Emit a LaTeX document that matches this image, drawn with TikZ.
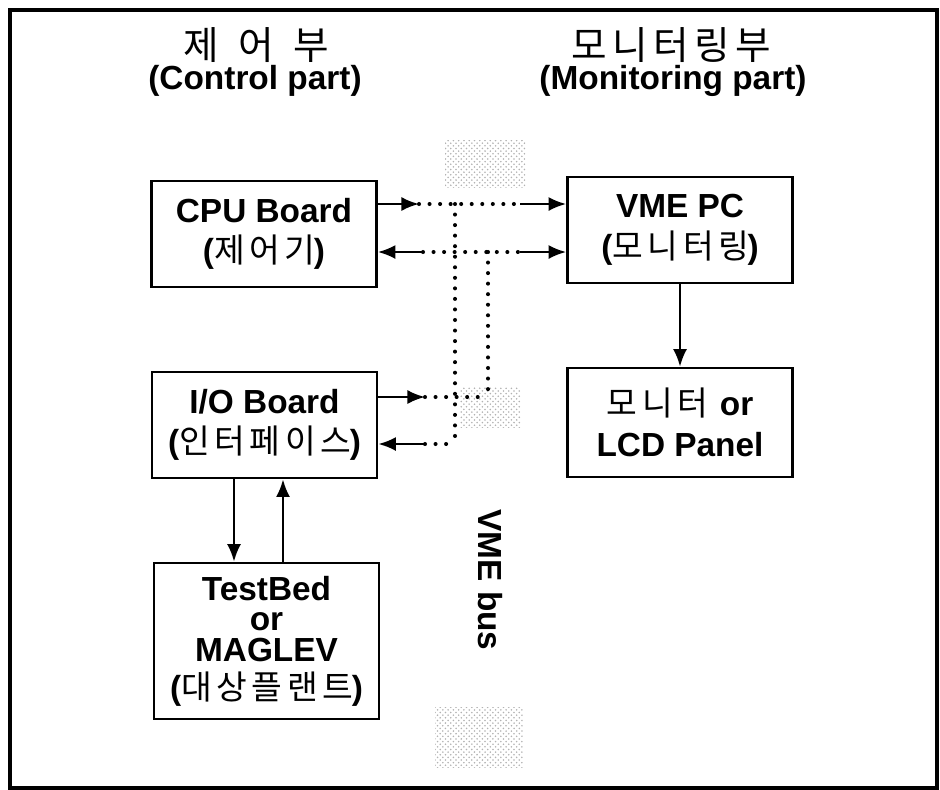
\documentclass[tikz,border=0pt]{standalone}
\usepackage{fontspec}
\setmainfont{Liberation Sans}
\newfontfamily\korfont{Noto Sans CJK KR}[LetterSpace=14]
\usetikzlibrary{arrows.meta,patterns}
\newcommand{\kr}[1]{{\korfont\mdseries #1\kern-0.05em}}
\newcommand{\kparen}[1]{\textbf{(}\kr{#1}\textbf{)}}

\tikzset{
  board/.style={draw, line width=1.5pt, minimum width=4.5cm, minimum height=2.12cm,
    align=center, inner sep=2pt, font=\fontsize{19}{23}\selectfont\bfseries},
  sig/.style={line width=1.4pt, -{Latex[length=10pt,width=8pt]}},
  bus/.style={line width=2.3pt, line cap=round, dash pattern=on 0pt off 6pt},
  grain/.style={pattern=crosshatch dots, pattern color=gray!60},
}

\begin{document}
\begin{tikzpicture}
    \useasboundingbox (0,0) rectangle (18.8,-15.78);
    \draw[line width=2pt] (0.2,-0.2) rectangle (18.74,-15.76);

    % bus shading
    \fill[grain] (8.9,-2.8)   rectangle (10.5,-3.75);
    \fill[grain] (9.2,-7.75)  rectangle (10.4,-8.55);
    \fill[grain] (8.7,-14.15) rectangle (10.45,-15.35);

    % headings
    \node[font=\fontsize{22}{26}\selectfont] (ctrlkr) at (5.1,-0.9)   {\kr{제\hspace{0.5em}어\hspace{0.5em}부}};
    \node[font=\fontsize{19}{22}\selectfont\bfseries] (ctrlen) at (5.1,-1.62) {(Control part)};
    \node[font=\fontsize{22}{26}\selectfont] (monkr)  at (13.4,-0.9) {\kr{모니터링부}};
    \node[font=\fontsize{19}{22}\selectfont\bfseries] (monen) at (13.46,-1.62) {(Monitoring part)};

    % boards
    \node[board] (cpu)   at (5.28,-4.68)  {CPU Board\\\kparen{제어기}};
    \node[board] (io)    at (5.29,-8.5)   {I/O Board\\\kparen{인터페이스}};
    \node[board, minimum height=3.12cm, font=\fontsize{19}{17.5}\selectfont\bfseries] (plant) at (5.33,-12.82)
        {TestBed\\or\\MAGLEV\\[4pt]\kparen{대상플랜트}};
    \node[board] (vmepc) at (13.6,-4.6)   {VME PC\\\kparen{모니터링}};
    \node[board, minimum height=2.18cm] (lcd) at (13.6,-8.45) {\kr{모니터}\hspace{0.4em}or\\LCD Panel};

    \node[rotate=-90, font=\fontsize{19}{22}\selectfont\bfseries] (busname) at (9.8,-11.6) {VME bus};

    % bus taps
    \coordinate (t1) at (8.38,-4.08);
    \coordinate (s1) at (10.4,-4.08);
    \coordinate (t2) at (8.46,-5.04);
    \coordinate (s2) at (10.4,-5.04);
    \coordinate (t3) at (8.5,-7.94);
    \coordinate (t4) at (8.5,-8.88);
    \coordinate (v1) at (9.1,-4.08);
    \coordinate (v2) at (9.76,-5.04);

    \draw[bus] (t1) -- (s1);
    \draw[bus] (t2) -- (s2);
    \draw[bus] (t3) -- (t3 -| v2);
    \draw[bus] (t4) -- (t4 -| v1);
    \draw[bus] (v1) -- (v1 |- t4);
    \draw[bus] (v2) -- (v2 |- t3);

    \draw[sig] (cpu.east |- t1) -- (t1);
    \draw[sig] (t2) -- (cpu.east |- t2);
    \draw[sig] (s1) -- (vmepc.west |- s1);
    \draw[sig] (s2) -- (vmepc.west |- s2);
    \draw[sig] (io.east |- t3) -- (t3);
    \draw[sig] (t4) -- (io.east |- t4);

    \draw[sig] (vmepc) -- (lcd);
    \draw[sig] ([xshift=-0.61cm]io.south) -- ([xshift=-0.61cm]io.south |- plant.north);
    \draw[sig] ([xshift=0.33cm]plant.north) -- ([xshift=0.33cm]plant.north |- io.south);
\end{tikzpicture}
\end{document}
